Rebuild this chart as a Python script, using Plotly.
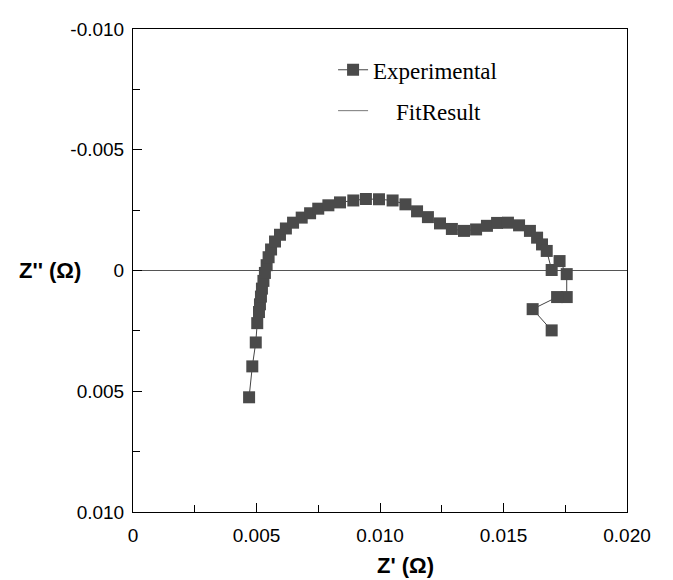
import plotly.graph_objects as go

z_real = [0.00470, 0.00483, 0.00497, 0.00503, 0.00510, 0.00514, 0.00518, 0.00522,
          0.00528, 0.00534, 0.00541, 0.00549, 0.00559, 0.00575, 0.00595, 0.00619,
          0.00648, 0.00683, 0.00717, 0.00750, 0.00791, 0.00838, 0.00892, 0.00943,
          0.00996, 0.01051, 0.01103, 0.01150, 0.01194, 0.01243, 0.01291, 0.01340,
          0.01389, 0.01433, 0.01474, 0.01518, 0.01563, 0.01607, 0.01636, 0.01656,
          0.01675, 0.01695, 0.01727, 0.01756, 0.01756, 0.01717, 0.01618, 0.01695]
z_imag = [0.00525, 0.00397, 0.00298, 0.00218, 0.00172, 0.00140, 0.00108, 0.00075,
          0.00043, 0.00010, -0.00022, -0.00055, -0.00087, -0.00120, -0.00148, -0.00174,
          -0.00198, -0.00219, -0.00237, -0.00256, -0.00270, -0.00282, -0.00290, -0.00296,
          -0.00295, -0.00290, -0.00274, -0.00245, -0.00221, -0.00195, -0.00172, -0.00164,
          -0.00170, -0.00185, -0.00197, -0.00198, -0.00187, -0.00164, -0.00136, -0.00108,
          -0.00081, -0.00002, -0.00039, 0.00015, 0.00110, 0.00110, 0.00160, 0.00248]

x_tickvals = [0, 0.005, 0.010, 0.015, 0.020]
x_ticktext = ["0", "0.005", "0.010", "0.015", "0.020"]
y_tickvals = [-0.010, -0.005, 0, 0.005, 0.010]
y_ticktext = ["-0.010", "-0.005", "0", "0.005", "0.010"]

fig = go.Figure()
fig.add_trace(go.Scatter(
    x=z_real, y=z_imag, mode="lines+markers", name="Experimental",
    line=dict(color="#444444", width=1),
    marker=dict(symbol="square", size=12, color="#4a4a4a"),
    legendgroup="a",
))
fig.add_trace(go.Scatter(
    x=[None], y=[None], mode="lines", name="\u00a0\u00a0\u00a0\u00a0FitResult",
    line=dict(color="#777777", width=1),
    legendgroup="b",
))

axis_common = dict(
    showline=True, linecolor="black", linewidth=1, mirror=True,
    showgrid=False, ticks="inside", ticklen=9, tickcolor="black", tickwidth=1,
    tickfont=dict(family="Liberation Sans, Arial", size=19, color="black"),
)

fig.update_xaxes(
    range=[0, 0.020], tickvals=x_tickvals, ticktext=x_ticktext,
    minor=dict(ticks="inside", ticklen=7, dtick=0.0025, tick0=0, tickcolor="black"),
    zeroline=False, ticklabelstandoff=6, **axis_common,
)
fig.update_yaxes(
    range=[0.010, -0.010], tickvals=y_tickvals, ticktext=y_ticktext,
    minor=dict(ticks="inside", ticklen=7, dtick=0.0025, tick0=0, tickcolor="black"),
    zeroline=True, zerolinecolor="#555555", zerolinewidth=1,
    ticklabelstandoff=4, **axis_common,
)

fig.add_annotation(text="<b>Z' (Ω)</b>", xref="paper", yref="paper",
                   x=0.551, y=-0.11, showarrow=False, xanchor="center", yanchor="middle",
                   font=dict(family="Liberation Sans, Arial", size=22, color="black"))
fig.add_annotation(text="<b>Z'' (Ω)</b>", xref="paper", yref="paper",
                   x=-0.168, y=0.5, showarrow=False, xanchor="center", yanchor="middle",
                   font=dict(family="Liberation Sans, Arial", size=22, color="black"))

# the page body adds an 8px offset, so margins are shifted to compensate
fig.update_layout(
    width=673, height=580,
    margin=dict(l=125, r=54, t=11, b=76),
    paper_bgcolor="white", plot_bgcolor="white",
    showlegend=True,
    legend=dict(x=0.405, y=0.96, xanchor="left", yanchor="top",
                bgcolor="rgba(0,0,0,0)", traceorder="grouped", tracegroupgap=8,
                font=dict(family="Liberation Serif, Times New Roman", size=23, color="black")),
)

fig.write_html("out.html")
